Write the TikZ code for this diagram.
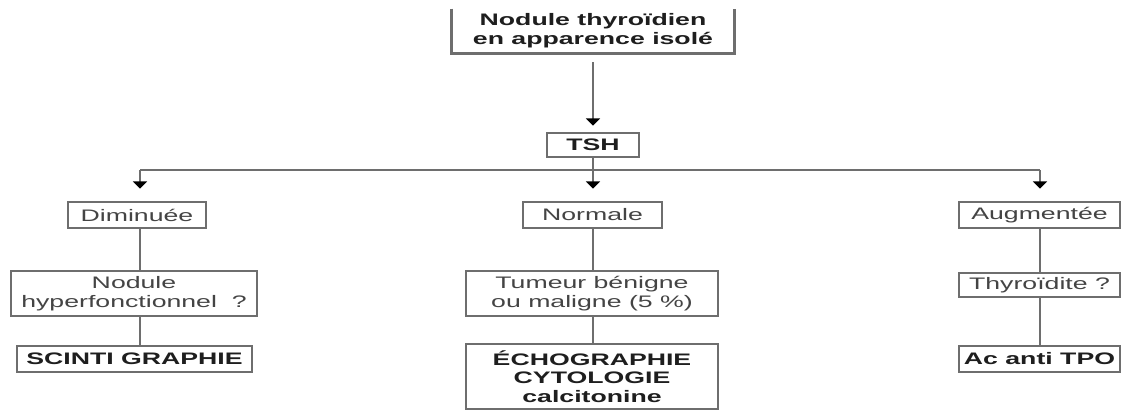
\documentclass[tikz,border=0pt]{standalone}
\usepackage{fontspec}
\setmainfont{Liberation Sans}[FakeStretch=1.6]
\usetikzlibrary{arrows.meta}
\definecolor{linegray}{HTML}{6E6E6E}
\definecolor{textdark}{HTML}{1E1E1E}
\definecolor{textgray}{HTML}{444444}
\begin{document}
\begin{tikzpicture}[x=0.75pt,y=-0.75pt,
  base/.style={align=center, inner sep=0pt, font=\fontsize{12.5}{14}\selectfont},
  box/.style={base, draw=linegray, line width=1.9pt},
  strong/.style={box, text=textdark, font=\fontsize{12.5}{14}\selectfont\bfseries},
  plain/.style={box, text=textgray},
  wh/.style 2 args={minimum width={#1*0.75pt}, minimum height={#2*0.75pt}},
  conn/.style={draw=linegray, line width=1.9pt},
  arr/.style={conn, -{Triangle[width=10.5pt,length=5.5pt,color=black]}}
]
\useasboundingbox (0,0) rectangle (1121,410);
\fill[white] (0,0) rectangle (1121,410);

% top
\node[base, text=textdark, font=\fontsize{12.5}{14}\selectfont\bfseries, wh={282}{44}] (top) at (593,31) {Nodule thyroïdien\\en apparence isolé};
\draw[conn] (top.north west) -- (top.south west) -- (top.south east) -- (top.north east);

\node[strong, wh={92}{24}] (tsh) at (593,145) {TSH};

% level 2
\node[plain, wh={138}{26}] (dim) at (137,215) {Diminuée};
\node[plain, wh={139}{26}] (nor) at (592.5,215) {Normale};
\node[plain, wh={161}{26}] (aug) at (1039.5,215) {Augmentée};

% level 3
\node[plain, wh={246}{45}] (hyp) at (134,293.5) {Nodule\\hyperfonctionnel~~?};
\node[plain, wh={252}{45}] (tum) at (592,293.5) {Tumeur bénigne\\ou maligne (5~\%)};
\node[plain, wh={161}{24}] (thy) at (1039.5,285) {Thyroïdite ?};

% level 4
\node[strong, wh={235}{26}] (sci) at (134.5,359) {SCINTI GRAPHIE};
\node[strong, wh={252}{65}] (eco) at (592,376.5) {ÉCHOGRAPHIE\\CYTOLOGIE\\calcitonine};
\node[strong, wh={161}{26}] (ac) at (1039.5,359) {Ac anti TPO};

% connectors
\coordinate (hl) at (140,170);
\coordinate (hm) at (593,170);
\coordinate (hr) at (1040,170);

\draw[arr, shorten <=9*0.75pt, shorten >=6*0.75pt] (top.south) -- (tsh.north);
\draw[conn] (tsh.south) -- (hm);
\draw[conn] (hl) -- (hr);
\draw[arr, shorten >=12*0.75pt] (hl) -- (hl |- dim.north);
\draw[arr, shorten >=12*0.75pt] (hm) -- (hm |- nor.north);
\draw[arr, shorten >=12*0.75pt] (hr) -- (hr |- aug.north);

\draw[conn] (hl |- dim.south) -- (hl |- hyp.north);
\draw[conn] (hl |- hyp.south) -- (hl |- sci.north);
\draw[conn] (hm |- nor.south) -- (hm |- tum.north);
\draw[conn] (hm |- tum.south) -- (hm |- eco.north);
\draw[conn] (hr |- aug.south) -- (hr |- thy.north);
\draw[conn] (hr |- thy.south) -- (hr |- ac.north);
\end{tikzpicture}
\end{document}
